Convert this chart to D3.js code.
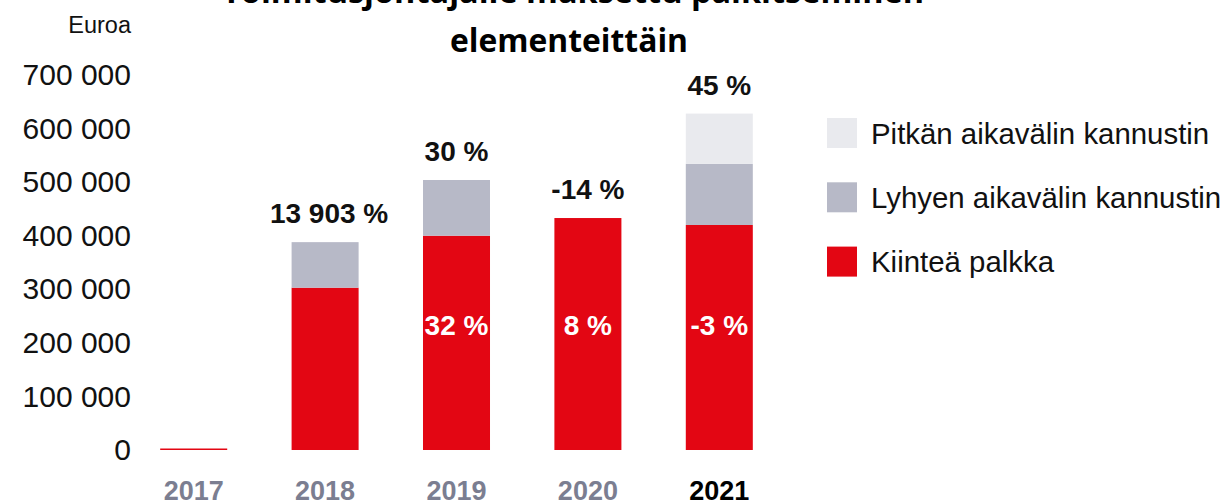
<!DOCTYPE html>
<html>
<head>
<meta charset="utf-8">
<script src="https://cdn.jsdelivr.net/npm/d3@7"></script>
<style>
  body { margin: 0; background: #fff; }
  svg { display: block; }
  text { font-family: "Liberation Sans", Arial, sans-serif; }
</style>
</head>
<body>
<div id="chart"></div>
<script>
(function() {
    const width = 1221;
    const height = 502;

    // data
    const years = ["2017", "2018", "2019", "2020", "2021"];
    const fixedPay = [2800, 303000, 400000, 433000, 420000];
    const shortTerm = [0, 85000, 104000, 0, 114000];
    const longTerm = [0, 0, 0, 0, 94000];
    const totalChange = ["", "13 903 %", "30 %", "-14 %", "45 %"];
    const fixedChange = ["", "", "32 %", "8 %", "-3 %"];
    const yTicks = [0, 100000, 200000, 300000, 400000, 500000, 600000, 700000];
    const seriesNames = ["Pitkän aikavälin kannustin", "Lyhyen aikavälin kannustin", "Kiinteä palkka"];

    const colors = {
        fixed: "#e30613",
        short: "#b7b9c7",
        long: "#e9eaee"
    };

    const svg = d3.select("#chart").append("svg")
        .attr("width", width).attr("height", height);

    const x = d3.scaleBand().domain(years).range([128, 785])
        .paddingInner(0.49).paddingOuter(0.245);
    const y = d3.scaleLinear().domain([0, 700000]).range([450, 75]);

    const rows = years.map((yr, i) => ({
        year: yr, fixed: fixedPay[i], short: shortTerm[i], long: longTerm[i]
    }));
    const stack = d3.stack().keys(["fixed", "short", "long"])(rows);

    // title (first line is clipped by the top edge)
    const title = svg.append("g")
        .attr("font-weight", "bold")
        .attr("text-anchor", "middle");
    title.append("text")
        .attr("x", 573).attr("y", 3)
        .attr("font-size", "32px")
        .attr("textLength", 702).attr("lengthAdjust", "spacingAndGlyphs")
        .style("font-family", "'Open Sans', sans-serif")
        .text("Toimitusjohtajalle maksettu palkitseminen");
    title.append("text")
        .attr("x", 569).attr("y", 52)
        .attr("font-size", "32px")
        .attr("textLength", 238).attr("lengthAdjust", "spacingAndGlyphs")
        .style("font-family", "'Open Sans', sans-serif")
        .text("elementeittäin");

    // y axis
    const fmt = v => d3.format(",")(v).replace(/,/g, " ");
    const yAxis = svg.append("g")
        .attr("transform", "translate(131,0)")
        .call(d3.axisLeft(y).tickValues(yTicks).tickSize(0).tickPadding(0).tickFormat(fmt));
    yAxis.select(".domain").remove();
    yAxis.selectAll("text")
        .attr("font-family", "'Liberation Sans', Arial, sans-serif")
        .attr("font-size", "30px")
        .attr("fill", "#111");

    svg.append("text")
        .attr("x", 131).attr("y", 33)
        .attr("text-anchor", "end")
        .attr("font-size", "23.5px")
        .attr("fill", "#111")
        .text("Euroa");

    // bars
    const keyColor = { fixed: colors.fixed, short: colors.short, long: colors.long };
    svg.append("g").selectAll("g")
        .data(stack)
        .join("g")
        .attr("fill", d => keyColor[d.key])
        .selectAll("rect")
        .data(d => d)
        .join("rect")
        .attr("x", d => x(d.data.year))
        .attr("width", x.bandwidth())
        .attr("y", d => y(d[1]))
        .attr("height", d => y(d[0]) - y(d[1]));

    // x axis labels
    const xAxis = svg.append("g")
        .attr("transform", "translate(0,450)")
        .call(d3.axisBottom(x).tickSize(0).tickPadding(0));
    xAxis.select(".domain").remove();
    xAxis.selectAll("text")
        .attr("y", 50)
        .attr("dy", 0)
        .attr("font-family", "'Liberation Sans', Arial, sans-serif")
        .attr("font-size", "27px")
        .attr("font-weight", "bold")
        .attr("fill", d => d === "2021" ? "#000" : "#7b7e91");

    // total change labels
    svg.append("g").selectAll("text")
        .data(rows)
        .join("text")
        .attr("x", (d, i) => x(d.year) + x.bandwidth() / 2 + (i === 1 ? 4 : 0))
        .attr("y", d => y(d.fixed + d.short + d.long) - 19)
        .attr("text-anchor", "middle")
        .attr("font-size", "28px")
        .attr("font-weight", "bold")
        .attr("fill", "#111")
        .text((d, i) => totalChange[i]);

    // fixed pay change labels
    svg.append("g").selectAll("text")
        .data(rows)
        .join("text")
        .attr("x", d => x(d.year) + x.bandwidth() / 2)
        .attr("y", y(215000))
        .attr("text-anchor", "middle")
        .attr("font-size", "28px")
        .attr("font-weight", "bold")
        .attr("fill", "#fff")
        .text((d, i) => fixedChange[i]);

    // legend
    const legendColors = [colors.long, colors.short, colors.fixed];
    const legend = svg.append("g").attr("transform", "translate(827,118)");
    const item = legend.selectAll("g")
        .data(seriesNames)
        .join("g")
        .attr("transform", (d, i) => `translate(0,${i * 64.3})`);
    item.append("rect")
        .attr("width", 30).attr("height", 30)
        .attr("fill", (d, i) => legendColors[i]);
    item.append("text")
        .attr("x", 44).attr("y", 25.5)
        .attr("font-size", "29.4px")
        .attr("fill", "#111")
        .text(d => d);
})();
</script>
</body>
</html>
